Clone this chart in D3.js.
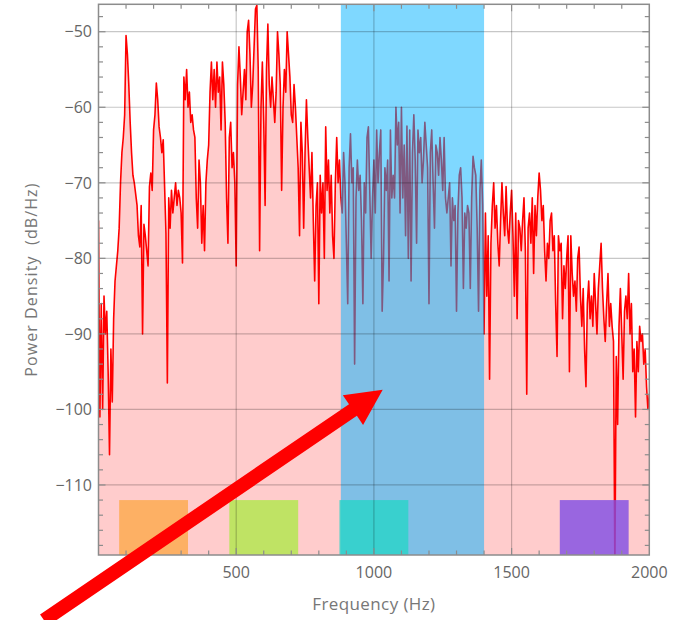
<!DOCTYPE html>
<html><head><meta charset="utf-8">
<script src="https://cdn.jsdelivr.net/npm/d3@7"></script>
<style>
html,body{margin:0;padding:0;background:#fff;}
svg{display:block;}
text{font-family:"Open Sans","Noto Sans",sans-serif;}
</style></head>
<body>
<script>
// ---- data ----
const freqStep = 5; // Hz between samples, starting at 0 Hz
const psd = [
 -75,-101,-86,-100,-85,-90,-87,-95,-106,-92,-99,-88,-83,-81,-79,-76,-70,-66,-64,-61,
 -50.5,-53,-57,-62,-66,-69,-70,-71.5,-73,-77,-78.5,-73,-90,-75.5,-77,-79,-81,-70.5,-68.7,-71,
 -63,-61,-56.8,-59,-62.6,-64,-66,-64.3,-70.5,-76.7,-96.5,-72,-76,-71,-74,-72,-70,-73,-71,-72,
 -74,-80.6,-56,-59,-55,-60,-58,-62,-61,-63,-64,-72,-76,-67,-70,-78,-73,-79,-70,-67,
 -65,-58,-54,-59,-55,-60,-54,-58,-56,-63,-54,-57,-62,-72,-78,-64,-62,-68,-66,-70,
 -81,-57,-52,-56,-61,-58,-55,-59,-50,-48.5,-53,-60,-57,-52,-47,-46.5,-55,-79,-60,-54,
 -62,-73,-55,-49,-57,-60,-56,-59,-62,-58,-50,-53,-57,-71,-60,-55,-58,-50,-53,-56,
 -61,-62,-57,-60,-64,-68,-77,-62,-66,-76,-66,-59,-64,-68,-72,-66,-75,-83,-73,-70,
 -86,-69,-74,-70,-80,-62.6,-71,-67,-74,-69,-77,-80,-70,-64,-70,-67,-72,-74,-66,-70,
 -78,-86,-68,-63.5,-70,-68,-94,-72,-67,-71,-69,-75,-86,-70,-74,-64,-62.6,-71,-80,-72,
 -67,-74,-63,-70,-66,-63,-87,-80,-68,-71,-67,-83,-63,-72,-69,-72,-60,-65,-62,-74,
 -60,-72,-65,-77,-62.5,-80,-63,-83,-66,-61,-67,-78,-63,-66,-64,-70,-67,-62,-65,-68,
 -86,-66,-63,-70,-76,-65,-66,-69,-64,-67,-71,-64,-72,-74,-72,-70,-81,-72,-75,-73,
 -87,-74,-69,-68,-72,-84,-74,-76,-73,-74,-84,-72,-66.5,-68,-69,-76,-87,-71,-67,-73,
 -90,-74,-85,-77,-96,-78,-73,-70,-76,-73,-78,-81,-75,-70,-74,-77,-70.5,-76,-78,-74,
 -71,-77,-85,-74,-88,-75,-76,-79,-75,-72,-79,-98,-76,-74,-78,-72,-82,-73,-77,-72,
 -68.7,-71,-75,-73,-79,-83,-78,-80,-75,-74,-79,-77,-86,-93,-77,-79,-78,-88,-81,-84,
 -80,-77,-95,-77,-82,-85,-83,-87,-80,-78.5,-85,-89,-84,-92,-97,-86,-83,-88,-85,-89,
 -82,-86,-90,-84,-81,-78,-84,-88,-91,-86,-82,-89,-86,-89,-91,-121,-93,-102,-89,-84,
 -90,-96,-87,-85,-88,-82,-90,-86,-95,-92,-101,-91,-95,-89,-91,-90,-94,-92,-97,-100,
 -98
];
const xDomain = [0, 2000];
const yDomain = [-119.27, -46.37];
const xMajorTicks = [500, 1000, 1500, 2000];
const xTickLabels = ["500", "1000", "1500", "2000"];
const yMajorTicks = [-50, -60, -70, -80, -90, -100, -110];
const yTickLabels = ["\u221250", "\u221260", "\u221270", "\u221280", "\u221290", "\u2212100", "\u2212110"];
const band = [880, 1400];                 // highlighted band (Hz)
const boxStarts = [75, 475, 875, 1675];   // small boxes (Hz)
const boxEnds   = [325, 725, 1125, 1925];
const boxTop = -112;
const boxColors = ["rgba(252,169,74,0.8)", "rgba(175,233,74,0.8)", "rgba(40,212,200,0.8)", "rgba(128,76,229,0.8)"];
const arrowFrom = [-198, -127.9];         // Hz, dB
const arrowTo = [1032, -97.4];
const xTitle = "Frequency (Hz)";
const yTitle = "Power Density  (dB/Hz)";

// ---- chart ----
const W = 692, H = 620;
const x = d3.scaleLinear().domain(xDomain).range([98.5, 649.3]);
const y = d3.scaleLinear().domain(yDomain).range([555, 4.3]);
const data = psd.map((v, i) => ({f: i * freqStep, v}));

const svg = d3.select("body").append("svg").attr("width", W).attr("height", H);
const [x0, x1] = x.range(), [y0, y1] = y.range();

svg.append("defs").append("clipPath").attr("id", "clip")
  .append("rect").attr("x", x0).attr("y", y1).attr("width", x1 - x0).attr("height", y0 - y1);

const plot = svg.append("g").attr("clip-path", "url(#clip)");

// filled area
plot.append("path").datum(data)
  .attr("fill", "rgb(255,204,204)")
  .attr("d", d3.area().x(d => x(d.f)).y0(y0).y1(d => y(d.v)));

// grid
const grid = svg.append("g").attr("stroke", "rgba(0,0,0,0.22)").attr("stroke-width", 1.2);
xMajorTicks.filter(t => t < xDomain[1]).forEach(t =>
  grid.append("line").attr("x1", x(t)).attr("x2", x(t)).attr("y1", y1).attr("y2", y0));
yMajorTicks.forEach(t =>
  grid.append("line").attr("y1", y(t)).attr("y2", y(t)).attr("x1", x0).attr("x2", x1));

// spectrum line
plot.append("path").datum(data)
  .attr("fill", "none").attr("stroke", "#ff0000").attr("stroke-width", 1.6)
  .attr("stroke-linejoin", "round")
  .attr("d", d3.line().x(d => x(d.f)).y(d => y(d.v)));

// band
plot.append("rect")
  .attr("x", x(band[0])).attr("width", x(band[1]) - x(band[0]))
  .attr("y", y1).attr("height", y0 - y1)
  .attr("fill", "rgb(0,177,255)").attr("fill-opacity", 0.5);

// small boxes
plot.selectAll("rect.box").data(boxStarts).join("rect").attr("class", "box")
  .attr("x", (d) => x(d)).attr("width", (d, i) => x(boxEnds[i]) - x(d))
  .attr("y", y(boxTop)).attr("height", y0 - y(boxTop))
  .attr("fill", (d, i) => boxColors[i]);

// frame and ticks
const axisCol = "#8c8c8c";
svg.append("rect").attr("x", x0).attr("y", y1).attr("width", x1 - x0).attr("height", y0 - y1)
  .attr("fill", "none").attr("stroke", axisCol).attr("stroke-width", 1.5);

const tk = svg.append("g").attr("stroke", axisCol).attr("stroke-width", 1.2);
const xMinor = d3.range(xDomain[0] + 100, xDomain[1], 100);
xMinor.forEach(t => {
  const len = xMajorTicks.includes(t) ? 7 : 4.5;
  tk.append("line").attr("x1", x(t)).attr("x2", x(t)).attr("y1", y0).attr("y2", y0 - len);
  tk.append("line").attr("x1", x(t)).attr("x2", x(t)).attr("y1", y1).attr("y2", y1 + len);
});
const yMinor = d3.range(-118, -46, 2);
yMinor.forEach(t => {
  const len = yMajorTicks.includes(t) ? 7 : 4.5;
  tk.append("line").attr("y1", y(t)).attr("y2", y(t)).attr("x1", x0).attr("x2", x0 + len);
  tk.append("line").attr("y1", y(t)).attr("y2", y(t)).attr("x1", x1).attr("x2", x1 - len);
});

// tick labels
const labCol = "#666";
svg.append("g").selectAll("text").data(xMajorTicks).join("text")
  .attr("x", d => x(d)).attr("y", 578).attr("text-anchor", "middle")
  .attr("font-size", 16).attr("fill", labCol).text((d, i) => xTickLabels[i]);
svg.append("g").selectAll("text").data(yMajorTicks).join("text")
  .attr("x", 92).attr("y", d => y(d)).attr("dy", "0.36em").attr("text-anchor", "end")
  .attr("font-size", 16).attr("fill", labCol).text((d, i) => yTickLabels[i]);

// axis titles
svg.append("text").attr("x", (x0 + x1) / 2).attr("y", 610).attr("text-anchor", "middle")
  .attr("font-size", 17).attr("letter-spacing", 0.4).attr("fill", "#777").text(xTitle);
svg.append("text").attr("transform", `translate(37,${(y0 + y1) / 2}) rotate(-90)`)
  .attr("text-anchor", "middle").attr("font-size", 16).attr("letter-spacing", 1.1)
  .attr("fill", "#777").style("white-space", "pre").text(yTitle);

// arrow
const S = [x(arrowFrom[0]), y(arrowFrom[1])], T = [x(arrowTo[0]), y(arrowTo[1])];
const dx = T[0] - S[0], dy = T[1] - S[1], L = Math.hypot(dx, dy);
const u = [dx / L, dy / L], n = [-u[1], u[0]];
const headLen = 36, headHalf = 18, shaftHalf = 7;
const B = [T[0] - u[0] * headLen, T[1] - u[1] * headLen];
const P = (p, k) => [p[0] + n[0] * k, p[1] + n[1] * k];
const pts = [P(S, shaftHalf), P(B, shaftHalf), P(B, headHalf), T, P(B, -headHalf), P(B, -shaftHalf), P(S, -shaftHalf)];
svg.append("polygon").attr("points", pts.map(p => p.join(",")).join(" ")).attr("fill", "#ff0000");
</script>
</body></html>
